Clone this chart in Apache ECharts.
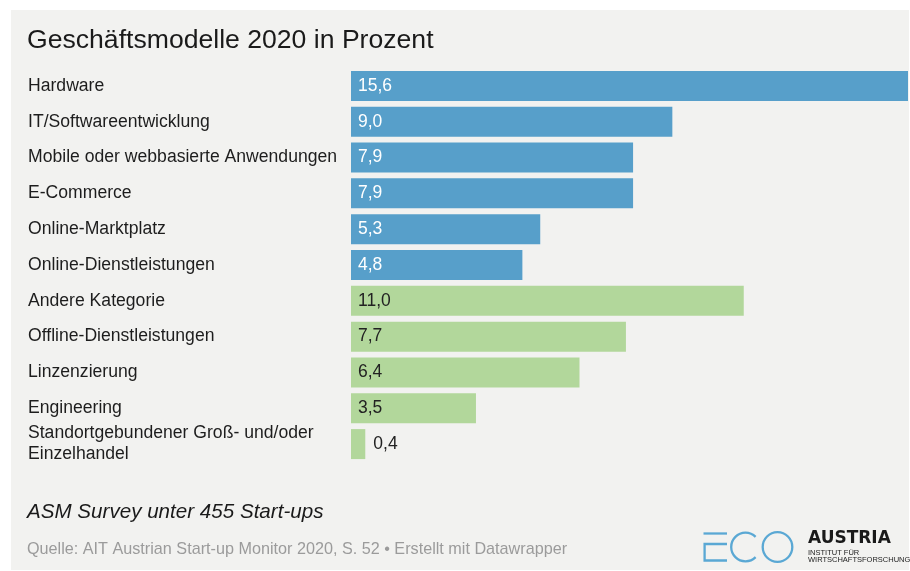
<!DOCTYPE html>
<html lang="de">
<head>
<meta charset="utf-8">
<title>Geschäftsmodelle 2020 in Prozent</title>
<script src="https://cdn.jsdelivr.net/npm/echarts@6/dist/echarts.min.js"></script>
<style>
  html, body { margin: 0; padding: 0; background: #fff; }
  #chart { width: 910px; height: 571px; }
</style>
</head>
<body>
<div id="chart"></div>
<script>
// Geschäftsmodelle der Start-ups, Anteil in Prozent
const kategorien = [
  'Hardware',
  'IT/Softwareentwicklung',
  'Mobile oder webbasierte Anwendungen',
  'E-Commerce',
  'Online-Marktplatz',
  'Online-Dienstleistungen',
  'Andere Kategorie',
  'Offline-Dienstleistungen',
  'Linzenzierung',
  'Engineering',
  'Standortgebundener Groß- und/oder Einzelhandel',
];
const werte = [15.6, 9.0, 7.9, 7.9, 5.3, 4.8, 11.0, 7.7, 6.4, 3.5, 0.4];
const gruppen = ['digital', 'digital', 'digital', 'digital', 'digital', 'digital',
  'sonstige', 'sonstige', 'sonstige', 'sonstige', 'sonstige'];

const titel = 'Geschäftsmodelle 2020 in Prozent';
const untertitel = 'ASM Survey unter 455 Start-ups';
const quelle = 'Quelle: AIT Austrian Start-up Monitor 2020, S. 52 • Erstellt mit Datawrapper';

const FONT = '"Liberation Sans", Arial, Helvetica, sans-serif';
const farben = { digital: '#579fca', sonstige: '#b2d79b' };
const logoBlau = '#5aa8d4';

const fmt = v => v.toFixed(1).replace('.', ',');

const chart = echarts.init(document.getElementById('chart'), null, { renderer: 'canvas' });

const barData = werte.map((v, i) => {
  const item = { value: v, itemStyle: { color: farben[gruppen[i]] } };
  if (v < 1) {
    // zu kurz für eine Beschriftung im Balken
    item.label = { position: 'right', distance: 8, color: '#222' };
  } else {
    item.label = { color: gruppen[i] === 'digital' ? '#fff' : '#222' };
  }
  return item;
});

const option = {
  backgroundColor: '#fff',
  animation: false,
  grid: { left: 351, right: 2, top: 68, height: 394 },
  xAxis: {
    type: 'value',
    min: 0,
    max: Math.max(...werte),
    show: false,
  },
  yAxis: {
    type: 'category',
    data: kategorien,
    inverse: true,
    axisLine: { show: false },
    axisTick: { show: false },
    splitLine: { show: false },
    axisLabel: {
      align: 'left',
      margin: 323,
      color: '#1d1d1d',
      fontFamily: FONT,
      fontSize: 17.6,
      lineHeight: 21,
      width: 320,
      overflow: 'break',
    },
  },
  series: [{
    type: 'bar',
    data: barData,
    barWidth: 30,
    label: {
      show: true,
      position: 'insideLeft',
      distance: 7,
      fontFamily: FONT,
      fontSize: 17.5,
      formatter: p => fmt(p.value),
    },
  }],
  graphic: [
    { type: 'rect', z: -10, silent: true, shape: { x: 11, y: 10, width: 898, height: 560 }, style: { fill: '#f2f2f0' } },
    { type: 'text', x: 27, y: 41, style: { text: titel, font: '26.6px ' + FONT, fill: '#1a1a1a', textVerticalAlign: 'middle' } },
    { type: 'text', x: 27, y: 512.5, style: { text: untertitel, font: 'italic 20.6px ' + FONT, fill: '#1a1a1a', textVerticalAlign: 'middle' } },
    { type: 'text', x: 27, y: 550, style: { text: quelle, font: '16.2px ' + FONT, fill: '#9b9b9b', textVerticalAlign: 'middle' } },
    // Logo ECO AUSTRIA
    { type: 'polyline', shape: { points: [[703.5, 533.5], [727, 533.5]] }, style: { stroke: logoBlau, lineWidth: 2.3, fill: null } },
    { type: 'polyline', shape: { points: [[727, 544], [704.6, 544], [704.6, 560.5], [727, 560.5]] }, style: { stroke: logoBlau, lineWidth: 2.3, fill: null } },
    { type: 'arc', shape: { cx: 745.5, cy: 547, r: 14.3, startAngle: Math.PI / 4, endAngle: Math.PI * 7 / 4, clockwise: true }, style: { stroke: logoBlau, lineWidth: 2.3, fill: null } },
    { type: 'circle', shape: { cx: 777.5, cy: 547, r: 14.8 }, style: { stroke: logoBlau, lineWidth: 2.3, fill: null } },
    { type: 'text', x: 808, y: 539, style: { text: 'AUSTRIA', font: 'bold 17px "DejaVu Sans", ' + FONT, fill: '#1a1a1a', textVerticalAlign: 'middle' } },
    { type: 'text', x: 808, y: 552.5, style: { text: 'INSTITUT FÜR', font: '7.5px ' + FONT, fill: '#222', textVerticalAlign: 'middle' } },
    { type: 'text', x: 808, y: 559.5, style: { text: 'WIRTSCHAFTSFORSCHUNG', font: '7.5px ' + FONT, fill: '#222', textVerticalAlign: 'middle' } },
  ],
};

chart.setOption(option);
window.addEventListener('resize', () => chart.resize());
</script>
</body>
</html>
